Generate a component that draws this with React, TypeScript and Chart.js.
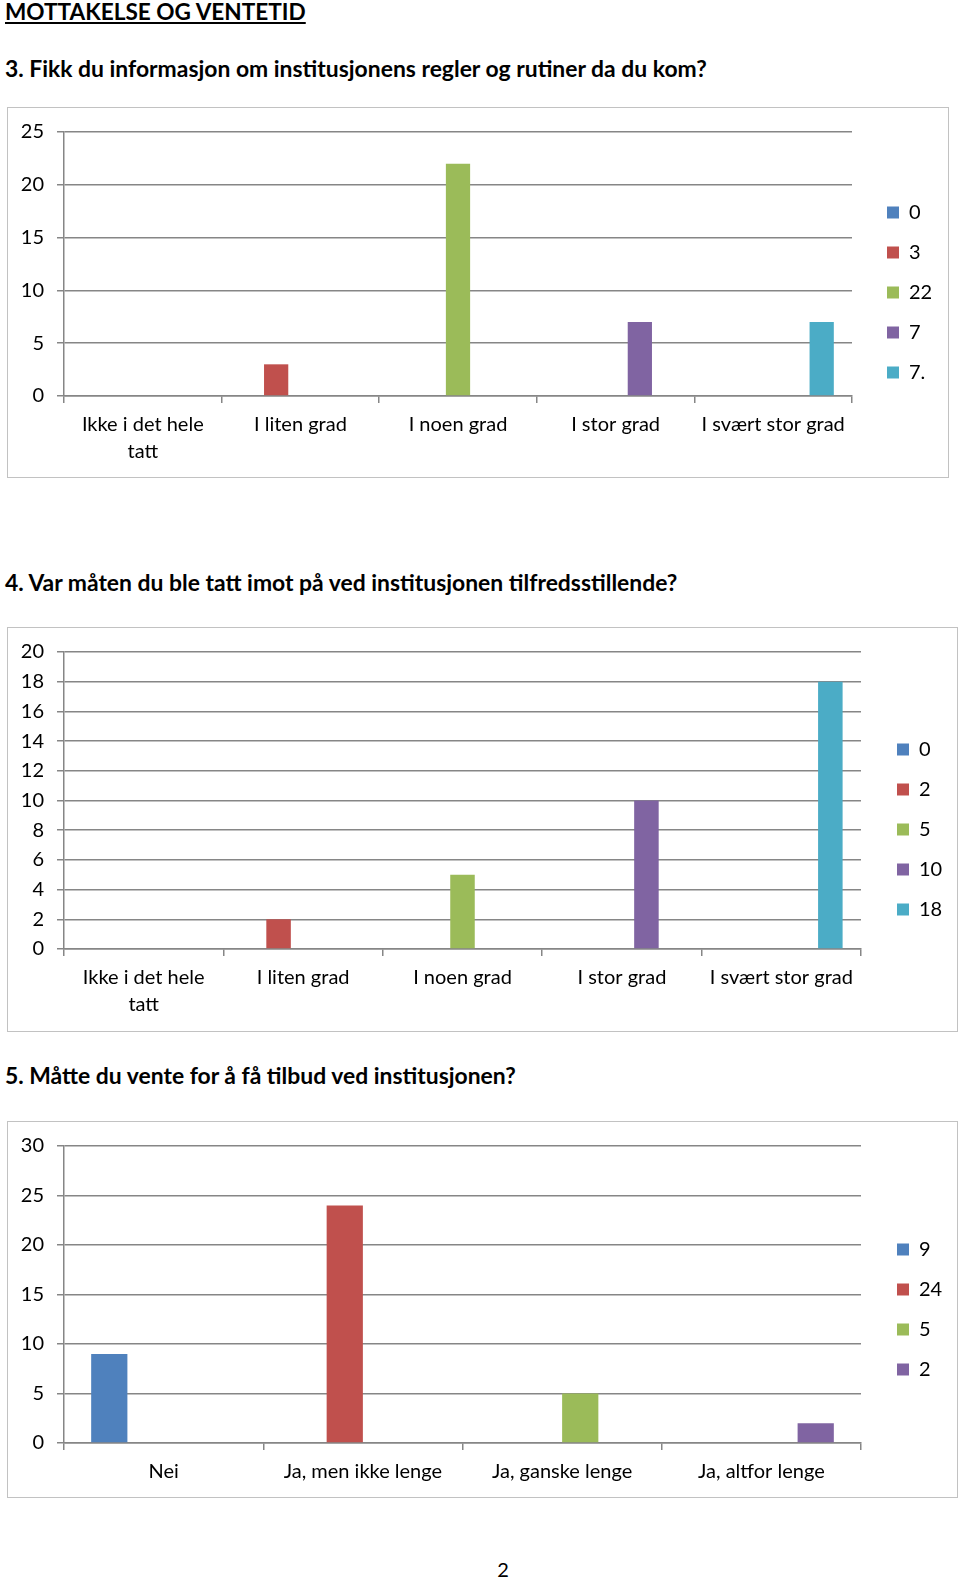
import React, { useEffect, useRef } from 'react';
import { Chart, registerables } from 'chart.js';

Chart.register(...registerables);

const FONT = 'Lato, "Noto Sans", sans-serif';

// ---------- data ----------
const pageTitle = 'MOTTAKELSE OG VENTETID';
const pageNumber = '2';

const q3Title = '3. Fikk du informasjon om institusjonens regler og rutiner da du kom?';
const q3Categories: (string | string[])[] = [['Ikke i det hele', 'tatt'], 'I liten grad', 'I noen grad', 'I stor grad', 'I svært stor grad'];
const q3Values = [0, 3, 22, 7, 7];
const q3SeriesNames = ['0', '3', '22', '7', '7.'];
const q3YMax = 25;
const q3YStep = 5;

const q4Title = '4. Var måten du ble tatt imot på ved institusjonen tilfredsstillende?';
const q4Categories: (string | string[])[] = [['Ikke i det hele', 'tatt'], 'I liten grad', 'I noen grad', 'I stor grad', 'I svært stor grad'];
const q4Values = [0, 2, 5, 10, 18];
const q4SeriesNames = ['0', '2', '5', '10', '18'];
const q4YMax = 20;
const q4YStep = 2;

const q5Title = '5. Måtte du vente for å få tilbud ved institusjonen?';
const q5Categories: (string | string[])[] = ['Nei', 'Ja, men ikke lenge', 'Ja, ganske lenge', 'Ja, altfor lenge'];
const q5Values = [9, 24, 5, 2];
const q5SeriesNames = ['9', '24', '5', '2'];
const q5YMax = 30;
const q5YStep = 5;

const seriesColors = ['#4F81BD', '#C0504D', '#9BBB59', '#8064A2', '#4BACC6'];
const GRID = '#868686';
const TICK_SIZE = 20;

// keeps the legend box at a fixed width so the layout is deterministic
const fixLegendWidth = {
  id: 'fixLegendWidth',
  beforeLayout(chart: any, _args: any, opts: any) {
    const lg = chart.legend;
    if (lg && !lg.__fixed) {
      const orig = lg.fit;
      lg.fit = function () {
        orig.call(this);
        if (this.options.display) this.width = opts.width;
      };
      lg.__fixed = true;
    }
  },
};

type Box = { left: number; top: number; width: number; height: number };
type Lay = { yAxisWidth: number; padTop: number; xAxisHeight: number; gap: number; legendWidth: number };

function BarPanel(props: {
  categories: (string | string[])[];
  values: number[];
  names: string[];
  yMax: number;
  yStep: number;
  box: Box;
  lay: Lay;
}) {
  const ref = useRef<HTMLCanvasElement | null>(null);
  const { categories, values, names, yMax, yStep, box, lay } = props;
  useEffect(() => {
    if (!ref.current) return;
    const n = names.length;
    const datasets = names.map((name, i) => ({
      label: name,
      data: categories.map((_, j) => (j === i ? values[i] : null)),
      backgroundColor: seriesColors[i],
      borderWidth: 0,
    }));
    const spacer = (size: number, position: string) => ({
      type: 'linear',
      position,
      display: true,
      grid: { display: false },
      border: { display: false },
      ticks: { display: false },
      afterFit: (s: any) => {
        if (position === 'top') s.height = size;
        else s.width = size;
      },
    });
    const chart = new Chart(ref.current, {
      type: 'bar',
      data: { labels: categories as any, datasets: datasets as any },
      plugins: [fixLegendWidth as any],
      options: {
        animation: false,
        responsive: false,
        maintainAspectRatio: false,
        devicePixelRatio: 1,
        layout: { padding: 0 },
        datasets: { bar: { categoryPercentage: n / (n + 1.5), barPercentage: 1 } },
        plugins: {
          fixLegendWidth: { width: lay.legendWidth },
          legend: {
            position: 'right',
            labels: {
              boxWidth: 12,
              boxHeight: 12,
              padding: 20,
              color: '#000',
              font: { family: FONT, size: TICK_SIZE },
            },
          },
          tooltip: { enabled: false },
        },
        scales: {
          x: {
            grid: { display: true, drawOnChartArea: false, drawTicks: true, tickLength: 7, color: GRID, lineWidth: 1.5, offset: true },
            border: { display: true, color: GRID, width: 1.5 },
            ticks: { color: '#000', font: { family: FONT, size: TICK_SIZE, lineHeight: 1.35 }, padding: 8, maxRotation: 0, minRotation: 0, autoSkip: false },
            afterFit: (s: any) => { s.height = lay.xAxisHeight; },
          },
          y: {
            min: 0,
            max: yMax,
            ticks: { stepSize: yStep, color: '#000', font: { family: FONT, size: TICK_SIZE }, padding: 13 },
            grid: { color: GRID, lineWidth: 1.5, tickLength: 7 },
            border: { display: true, color: GRID, width: 1.5 },
            afterFit: (s: any) => { s.width = lay.yAxisWidth; },
          },
          gapRight: spacer(lay.gap, 'right'),
          gapTop: spacer(lay.padTop, 'top'),
        },
      } as any,
    });
    return () => chart.destroy();
  }, []);
  return (
    <>
      <canvas
        ref={ref}
        width={box.width}
        height={box.height}
        style={{ position: 'absolute', left: box.left, top: box.top, width: box.width, height: box.height }}
      />
      <div
        style={{
          position: 'absolute',
          left: box.left,
          top: box.top,
          width: box.width,
          height: box.height,
          border: '1.5px solid #c2c2c2',
          boxSizing: 'border-box',
          pointerEvents: 'none',
        }}
      />
    </>
  );
}

function Heading(props: { text: string; top: number; size: number; underline?: boolean }) {
  return (
    <div
      style={{
        position: 'absolute',
        left: 5,
        top: props.top,
        fontFamily: FONT,
        fontWeight: 700,
        fontSize: props.size,
        lineHeight: 1,
        color: '#000',
        whiteSpace: 'nowrap',
        textDecoration: props.underline ? 'underline' : 'none',
      }}
    >
      {props.text}
    </div>
  );
}

export default function App() {
  return (
    <div style={{ position: 'absolute', left: 0, top: 0, width: 960, height: 1582, background: '#fff', overflow: 'hidden' }}>
      <Heading text={pageTitle} top={1} size={22.6} underline />
      <Heading text={q3Title} top={57.4} size={22.9} />
      <BarPanel
        categories={q3Categories}
        values={q3Values}
        names={q3SeriesNames}
        yMax={q3YMax}
        yStep={q3YStep}
        box={{ left: 7, top: 107, width: 942, height: 371 }}
        lay={{ yAxisWidth: 57, padTop: 23, xAxisHeight: 82, gap: 15, legendWidth: 82 }}
      />
      <Heading text={q4Title} top={571} size={22.9} />
      <BarPanel
        categories={q4Categories}
        values={q4Values}
        names={q4SeriesNames}
        yMax={q4YMax}
        yStep={q4YStep}
        box={{ left: 7, top: 627, width: 951, height: 405 }}
        lay={{ yAxisWidth: 57, padTop: 24, xAxisHeight: 83, gap: 16, legendWidth: 81 }}
      />
      <Heading text={q5Title} top={1064} size={22.9} />
      <BarPanel
        categories={q5Categories}
        values={q5Values}
        names={q5SeriesNames}
        yMax={q5YMax}
        yStep={q5YStep}
        box={{ left: 7, top: 1121, width: 951, height: 377 }}
        lay={{ yAxisWidth: 57, padTop: 24, xAxisHeight: 55, gap: 16, legendWidth: 81 }}
      />
      <div
        style={{
          position: 'absolute',
          left: 503,
          top: 1559,
          transform: 'translateX(-50%)',
          fontFamily: FONT,
          fontSize: 20,
          lineHeight: 1,
          color: '#000',
        }}
      >
        {pageNumber}
      </div>
    </div>
  );
}
